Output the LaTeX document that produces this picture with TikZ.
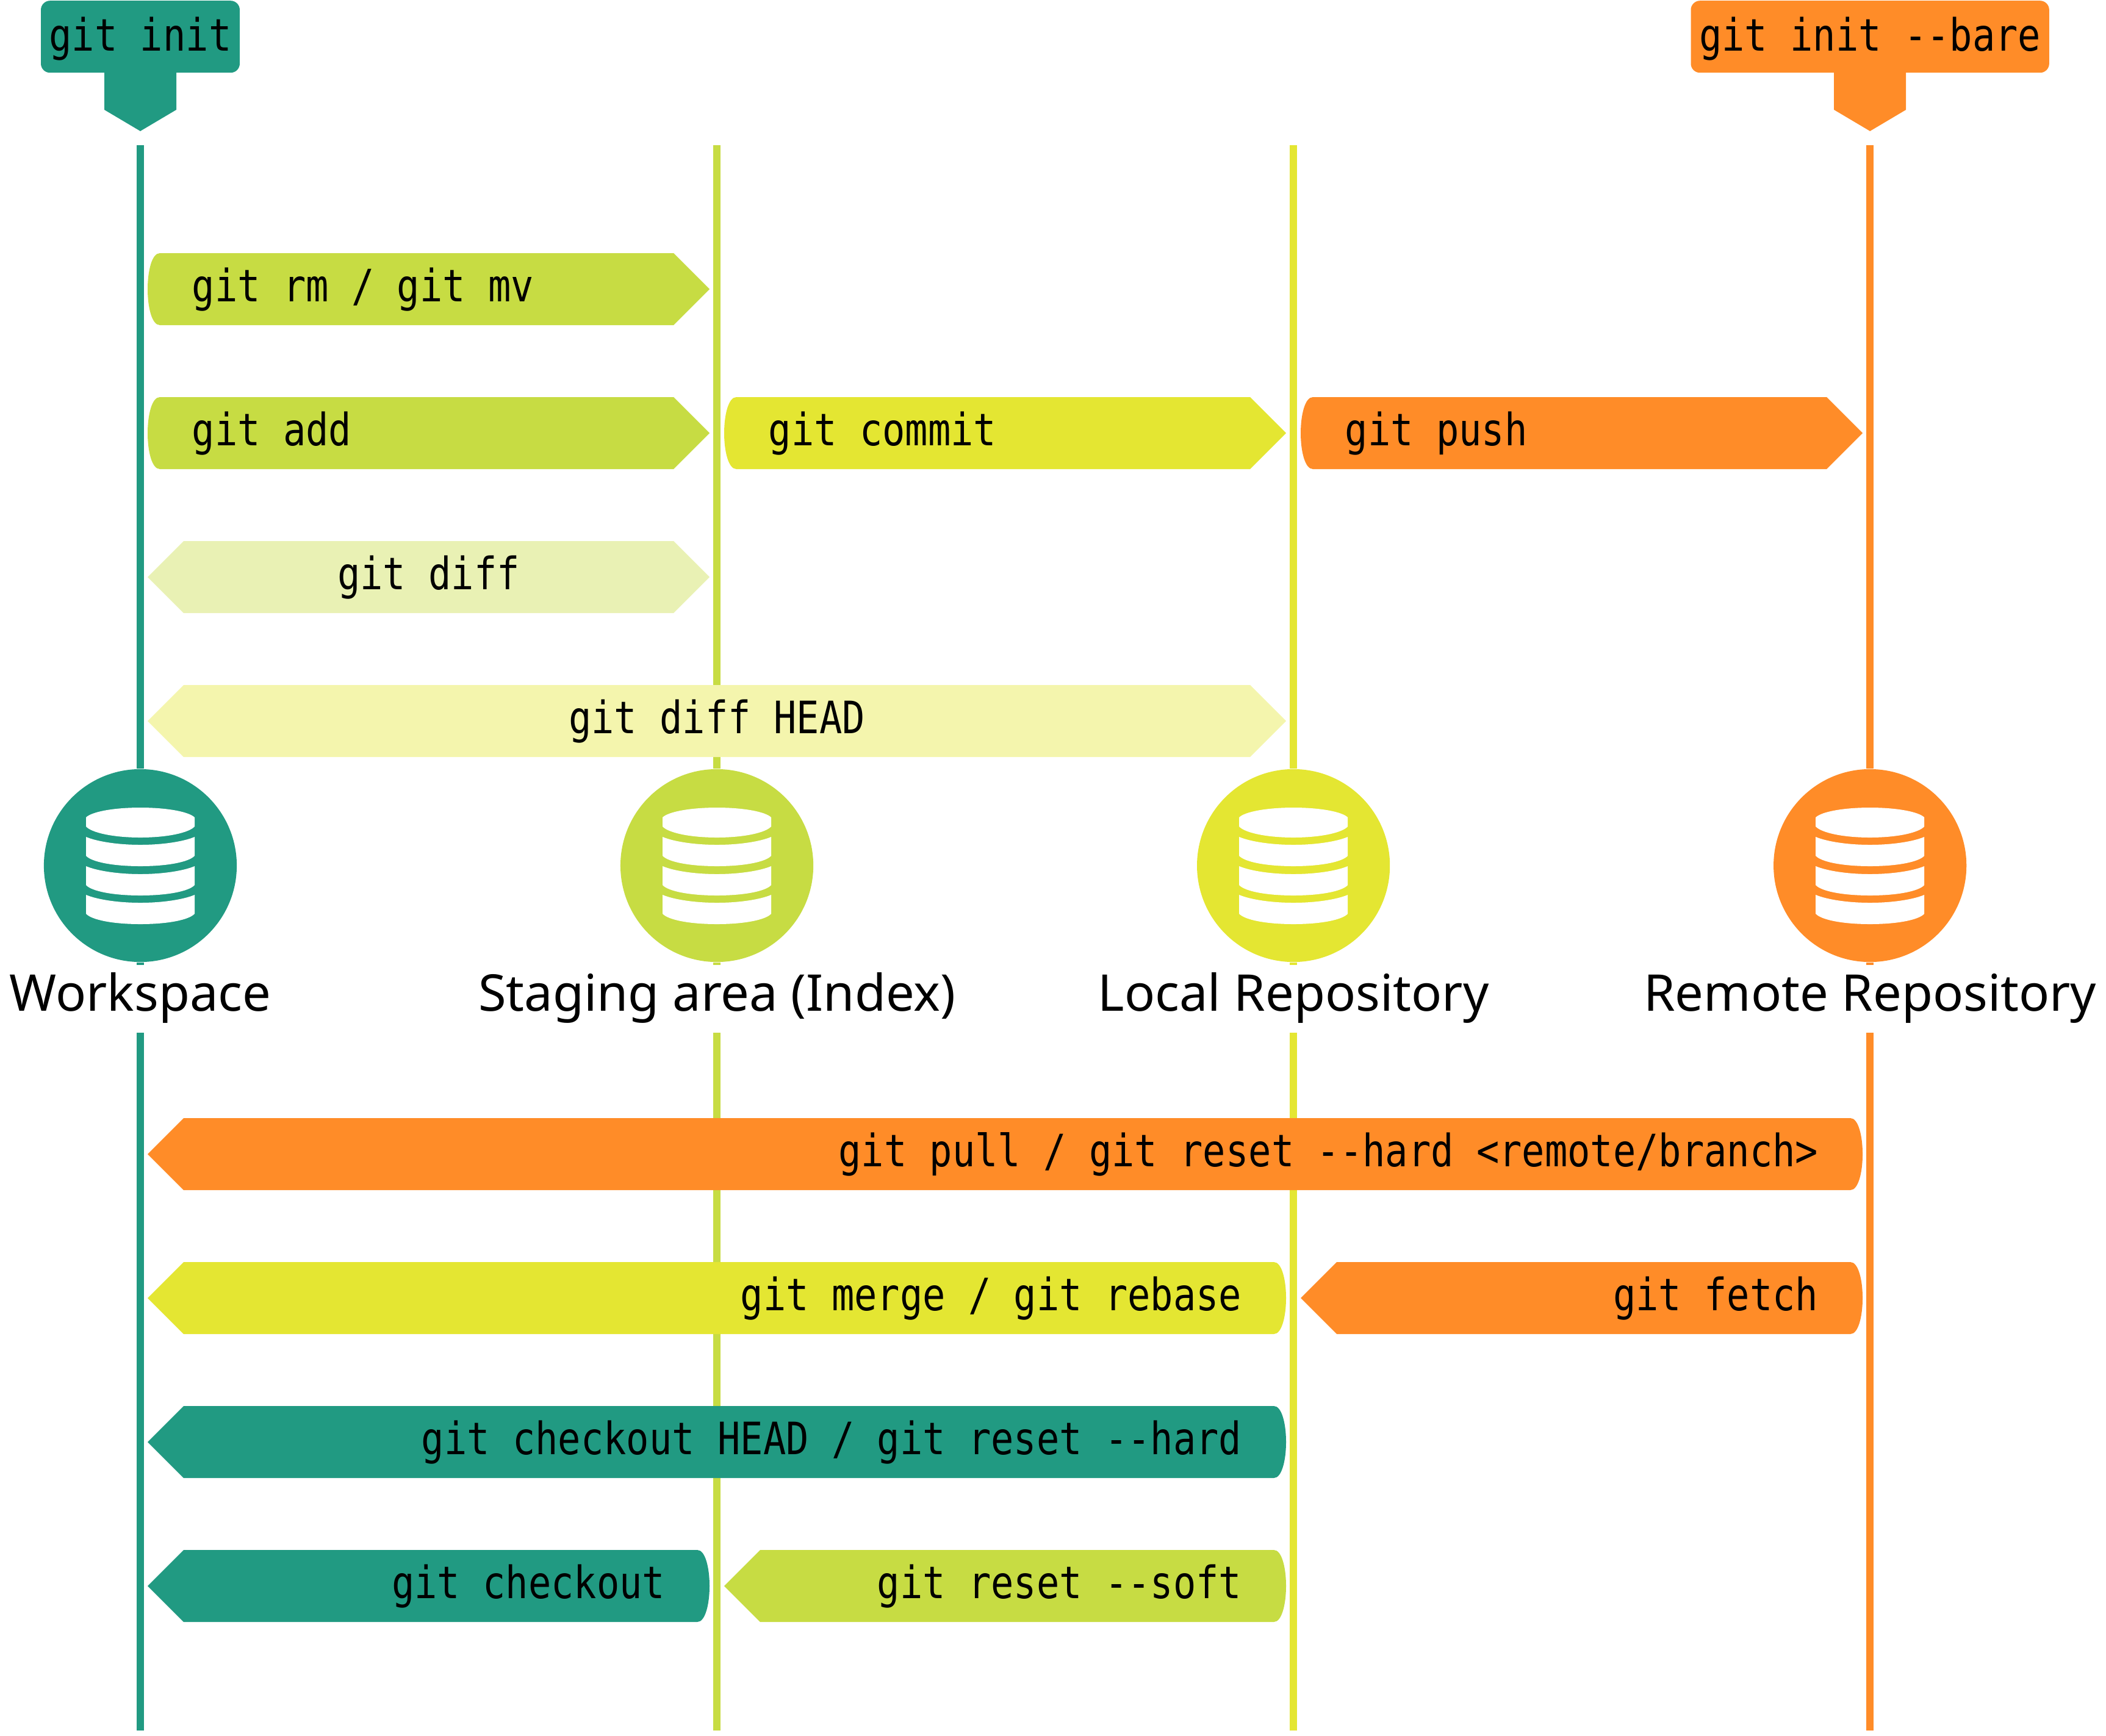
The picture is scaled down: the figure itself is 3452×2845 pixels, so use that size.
\documentclass[tikz,border=0pt]{standalone}
\usepackage{fontspec}
\setmainfont{Noto Sans}
\newfontfamily\cmdfont[FakeStretch=0.848]{DejaVu Sans Mono}
\usetikzlibrary{positioning}

\definecolor{gitteal}{RGB}{33,154,130}
\definecolor{gitlime}{RGB}{199,220,67}
\definecolor{gityellow}{RGB}{228,230,50}
\definecolor{gitorange}{RGB}{255,140,40}

\tikzset{
  db/.style={circle,minimum size=3.16cm,inner sep=0pt},
  dbname/.style={font=\fontsize{23.6}{28}\selectfont,inner sep=0pt,text height=.62cm,text depth=.17cm},
  cmd/.style={font=\cmdfont\fontsize{20.8}{25}\selectfont,inner sep=0pt},
  tagbox/.style={cmd,rounded corners=.15cm,inner xsep=.136cm,inner ysep=0pt,text height=.82cm,text depth=.36cm},
  lane/.style={line width=.12cm},
  dbicon/.pic={
    \fill[white] (-89,-79) .. controls (-80,-88) and (-45,-95) .. (0,-95)
      .. controls (45,-95) and (80,-88) .. (89,-79) -- (89,-64)
      .. controls (80,-54) and (45,-46) .. (0,-46)
      .. controls (-45,-46) and (-80,-54) .. (-89,-64) -- cycle;
    \foreach \dy in {0,48,95} {
      \fill[white] (-89,-47+\dy) .. controls (-70,-39+\dy) and (-35,-34+\dy) .. (0,-34+\dy)
        .. controls (35,-34+\dy) and (70,-39+\dy) .. (89,-47+\dy) -- (89,-16+\dy)
        .. controls (80,-6+\dy) and (45,1+\dy) .. (0,1+\dy)
        .. controls (-45,1+\dy) and (-80,-6+\dy) .. (-89,-16+\dy) -- cycle;
    }
  }
}

% name, from, to, row, colour, text
\newcommand{\pushcmd}[6]{
  \fill[#5] ({#2+20},#4-59) -- ({#3-59},#4-59) -- (#3,#4) -- ({#3-59},#4+59) -- ({#2+20},#4+59)
    .. controls ({#2+7},#4+59) and (#2,#4+30) .. (#2,#4)
    .. controls (#2,#4-30) and ({#2+7},#4-59) .. ({#2+20},#4-59) -- cycle;
  \node[cmd,anchor=base west] (#1) at ({#2+72},{#4+20}) {#6};
}
\newcommand{\pullcmd}[6]{
  \fill[#5] ({#3-20},#4-59) -- ({#2+59},#4-59) -- (#2,#4) -- ({#2+59},#4+59) -- ({#3-20},#4+59)
    .. controls ({#3-7},#4+59) and (#3,#4+30) .. (#3,#4)
    .. controls (#3,#4-30) and ({#3-7},#4-59) .. ({#3-20},#4-59) -- cycle;
  \node[cmd,anchor=base east] (#1) at ({#3-72},{#4+20}) {#6};
}
\newcommand{\diffcmd}[6]{
  \fill[#5] ({#2+59},#4-59) -- ({#3-59},#4-59) -- (#3,#4) -- ({#3-59},#4+59) -- ({#2+59},#4+59) -- (#2,#4) -- cycle;
  \node[cmd,anchor=base] (#1) at ({(#2+#3)/2},{#4+20}) {#6};
}

\begin{document}
\begin{tikzpicture}[x=.01cm,y=-.01cm,node distance=9.445cm,on grid]
  \useasboundingbox (0,0) rectangle (3452,2845);

  \node[db,fill=gitteal] (ws) at (230,1419) {};
  \node[db,fill=gitlime] (ia) [right=of ws] {};
  \node[db,fill=gityellow] (lr) [right=of ia] {};
  \node[db,fill=gitorange] (rr) [right=of lr] {};

  \node[dbname] (wsName) [below=2.155cm of ws] {Workspace};
  \node[dbname] (iaName) [below=2.155cm of ia] {Staging area (Index)};
  \node[dbname] (lrName) [below=2.155cm of lr] {Local Repository};
  \node[dbname] (rrName) [below=2.155cm of rr] {Remote Repository};

  \node[tagbox,fill=gitteal] (wsTag) [above=13.58cm of ws] {git init};
  \node[tagbox,fill=gitorange] (rrTag) [above=13.58cm of rr] {git init --bare};

  \fill[gitteal] (wsTag.south) ++(-59,-1) -- ++(0,61) -- ++(59,35) -- ++(59,-35) -- ++(0,-61) -- cycle;
  \fill[gitorange] (rrTag.south) ++(-59,-1) -- ++(0,61) -- ++(59,35) -- ++(59,-35) -- ++(0,-61) -- cycle;

  \foreach \db/\col in {ws/gitteal,ia/gitlime,lr/gityellow,rr/gitorange} {
    \pic at (\db) {dbicon};
    \coordinate (\db Top) at (\db |- 0,238);
    \coordinate (\db Stub) at (\db |- 0,1582);
    \coordinate (\db Low) at (\db |- 0,1693);
    \coordinate (\db End) at (\db |- 0,2837);
    \draw[lane,draw=\col] (\db Top) -- (\db);
    \draw[lane,draw=\col] (\db) -- (\db Stub);
    \draw[lane,draw=\col] (\db Low) -- (\db End);
  }

  % upper rows
  \pushcmd{rmCmd}{242}{1163}{474}{gitlime}{git rm / git mv}
  \pushcmd{addCmd}{242}{1163}{710}{gitlime}{git add}
  \pushcmd{commitCmd}{1187}{2108}{710}{gityellow}{git commit}
  \pushcmd{pushCmd}{2132}{3053}{710}{gitorange}{git push}
  \diffcmd{diffCmd}{242}{1163}{946}{gitlime!40}{git diff}
  \diffcmd{diffHeadCmd}{242}{2108}{1182}{gityellow!40}{git diff HEAD}

  % lower rows
  \pullcmd{pullCmd}{242}{3053}{1892}{gitorange}{git pull / git reset --hard <remote/branch>}
  \pullcmd{mergeCmd}{242}{2108}{2128}{gityellow}{git merge / git rebase}
  \pullcmd{fetchCmd}{2132}{3053}{2128}{gitorange}{git fetch}
  \pullcmd{hardCmd}{242}{2108}{2364}{gitteal}{git checkout HEAD / git reset --hard}
  \pullcmd{checkoutCmd}{242}{1163}{2600}{gitteal}{git checkout}
  \pullcmd{softCmd}{1187}{2108}{2600}{gitlime}{git reset --soft}
\end{tikzpicture}
\end{document}
